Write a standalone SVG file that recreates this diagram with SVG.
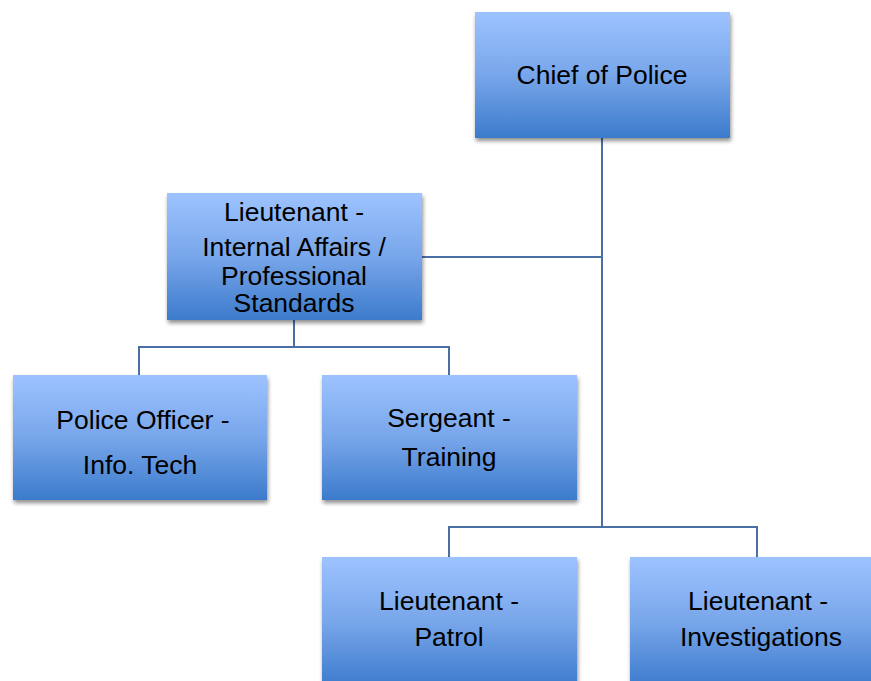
<svg xmlns="http://www.w3.org/2000/svg" width="871" height="681" viewBox="0 0 871 681">
<defs>
<linearGradient id="g" x1="0" y1="0" x2="0" y2="1">
<stop offset="0" stop-color="#9dc3ff"/>
<stop offset="0.5" stop-color="#78a6ea"/>
<stop offset="1" stop-color="#3c7bcc"/>
</linearGradient>
<filter id="sh" x="-10%" y="-10%" width="125%" height="130%">
<feGaussianBlur in="SourceAlpha" stdDeviation="2"/>
<feOffset dx="1" dy="3"/>
<feComponentTransfer><feFuncA type="linear" slope="0.45"/></feComponentTransfer>
<feMerge><feMergeNode/><feMergeNode in="SourceGraphic"/></feMerge>
</filter>
</defs>
<style>
.box{fill:url(#g);filter:url(#sh)}
.t{font-family:"Liberation Sans",Arial,sans-serif;font-size:26.5px;fill:#000;text-anchor:middle}
.c{fill:none;stroke:#4a6fa5;stroke-width:2}
</style>
<rect width="871" height="681" fill="#fff"/>
<g id="connectors">
<path class="c" d="M602 138 V527"/>
<path class="c" d="M422 257 H602"/>
<path class="c" d="M294 320 V347 M139 375 V347 H449 V375"/>
<path class="c" d="M449 557 V527 H757 V557"/>
</g>
<g id="chief">
<rect class="box" x="475" y="12" width="255" height="126"/>
<text class="t" x="602" y="84">Chief of Police</text>
</g>
<g id="lt-ia">
<rect class="box" x="167" y="193" width="255" height="127"/>
<text class="t" x="294" y="221">Lieutenant -</text>
<text class="t" x="294" y="256">Internal Affairs /</text>
<text class="t" x="294" y="284.5">Professional</text>
<text class="t" x="294" y="312">Standards</text>
</g>
<g id="po-it">
<rect class="box" x="13" y="375" width="254" height="125"/>
<text class="t" x="143" y="429">Police Officer -</text>
<text class="t" x="140" y="474">Info. Tech</text>
</g>
<g id="sgt-training">
<rect class="box" x="322" y="375" width="255" height="125"/>
<text class="t" x="449" y="427">Sergeant -</text>
<text class="t" x="449" y="466">Training</text>
</g>
<g id="lt-patrol">
<rect class="box" x="322" y="557" width="255" height="130"/>
<text class="t" x="449" y="610">Lieutenant -</text>
<text class="t" x="449" y="646">Patrol</text>
</g>
<g id="lt-inv">
<rect class="box" x="630" y="557" width="255" height="130"/>
<text class="t" x="758" y="610">Lieutenant -</text>
<text class="t" x="761" y="646">Investigations</text>
</g>
</svg>
